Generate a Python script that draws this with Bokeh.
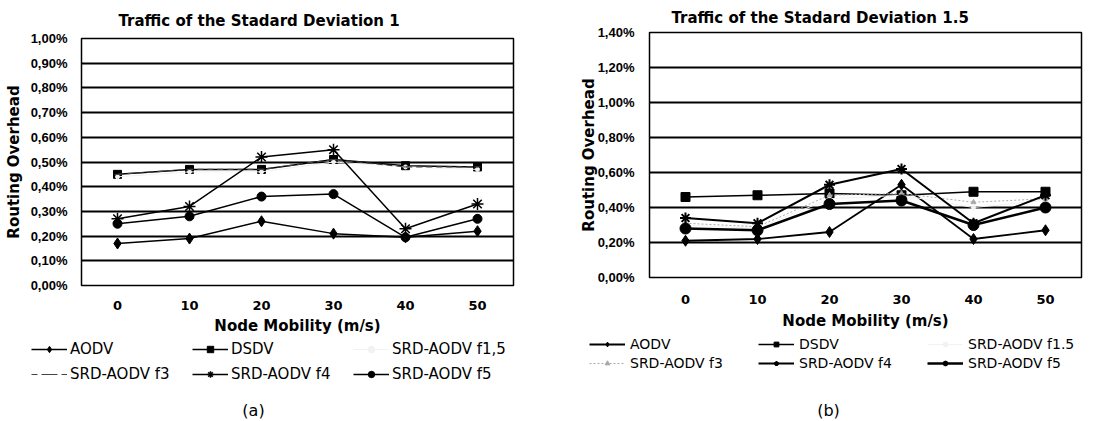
from bokeh.plotting import figure
from bokeh.models import FixedTicker, Legend, LegendItem, Label, Range1d
from bokeh.layouts import row, column
from bokeh.embed import file_html
from bokeh.resources import INLINE

# ---------------- data ----------------
speeds = ["0", "10", "20", "30", "40", "50"]

names_a = ["AODV", "DSDV", "SRD-AODV f1,5", "SRD-AODV f3", "SRD-AODV f4", "SRD-AODV f5"]
names_b = ["AODV", "DSDV", "SRD-AODV f1.5", "SRD-AODV f3", "SRD-AODV f4", "SRD-AODV f5"]

# (a) standard deviation 1, routing overhead in %
a_aodv = [0.17, 0.19, 0.26, 0.21, 0.195, 0.22]
a_dsdv = [0.45, 0.47, 0.47, 0.51, 0.485, 0.48]
a_f15 = [0.44, 0.46, 0.46, 0.50, 0.48, 0.47]
a_f3 = [0.45, 0.47, 0.47, 0.51, 0.48, 0.48]
a_f4 = [0.27, 0.32, 0.52, 0.55, 0.23, 0.33]
a_f5 = [0.25, 0.28, 0.36, 0.37, 0.195, 0.27]

# (b) standard deviation 1.5, routing overhead in %
b_aodv = [0.21, 0.22, 0.26, 0.53, 0.22, 0.27]
b_dsdv = [0.46, 0.47, 0.48, 0.47, 0.49, 0.49]
b_f15 = [0.30, 0.28, 0.45, 0.47, 0.40, 0.44]
b_f3 = [0.31, 0.29, 0.47, 0.48, 0.43, 0.45]
b_f4 = [0.34, 0.31, 0.53, 0.62, 0.31, 0.47]
b_f5 = [0.28, 0.27, 0.42, 0.44, 0.30, 0.40]

yticks_a = [0.0, 0.1, 0.2, 0.3, 0.4, 0.5, 0.6, 0.7, 0.8, 0.9, 1.0]
ylabels_a = ["0,00%", "0,10%", "0,20%", "0,30%", "0,40%", "0,50%",
             "0,60%", "0,70%", "0,80%", "0,90%", "1,00%"]
yticks_b = [0.0, 0.2, 0.4, 0.6, 0.8, 1.0, 1.2, 1.4]
ylabels_b = ["0,00%", "0,20%", "0,40%", "0,60%", "0,80%", "1,00%", "1,20%", "1,40%"]

titles = ["Traffic of the Stadard Deviation 1", "Traffic of the Stadard Deviation 1.5"]
xlabel = "Node Mobility (m/s)"
ylabel = "Routing Overhead"
captions = ["(a)", "(b)"]

# ---------------- styles ----------------
styles_a = [
    dict(marker="diamond", size=11, color="black", lw=1.5, dash="solid", mlw=1),
    dict(marker="square", size=8, color="black", lw=1.5, dash="solid", mlw=1),
    dict(marker="circle", size=4, color="#f2f2f2", lw=1, dash="solid", mlw=1),
    dict(marker="dash", size=6, color="#444444", lw=1.2, dash="6 4", mlw=1),
    dict(marker="asterisk", size=12, color="black", lw=1.5, dash="solid", mlw=1.5),
    dict(marker="circle", size=9, color="black", lw=1.5, dash="solid", mlw=1),
]
styles_b = [
    dict(marker="diamond", size=11, color="black", lw=1.8, dash="solid", mlw=1),
    dict(marker="square", size=9, color="black", lw=1.5, dash="solid", mlw=1),
    dict(marker="circle", size=4, color="#f2f2f2", lw=1, dash="solid", mlw=1),
    dict(marker="triangle", size=5, color="#aaaaaa", lw=1, dash="2 2", mlw=1),
    dict(marker="asterisk", size=11, color="black", lw=2, dash="solid", mlw=2),
    dict(marker="circle", size=11, color="black", lw=2.5, dash="solid", mlw=1),
]

FONT = "DejaVu Sans"


def draw_series(p, vals, st):
    ln = p.line(speeds, vals, line_color=st["color"], line_width=st["lw"], line_dash=st["dash"])
    mk = p.scatter(speeds, vals, marker=st["marker"], size=st["size"],
                   line_color=st["color"], fill_color=st["color"], line_width=st["mlw"])
    return ln, mk


def make_main(width, height, frame, title, title_offset, title_standoff, series, styles,
              yticks, ylabels, ymax, ytick_standoff, ylabel_standoff,
              xtick_standoff, xlabel_standoff):
    left, top, right, bottom = frame
    p = figure(width=width, height=height, x_range=speeds, y_range=Range1d(0, ymax),
               output_backend="svg", toolbar_location=None,
               min_border_left=left, min_border_top=top,
               min_border_right=right, min_border_bottom=bottom)
    p.frame_align = False
    p.title.text = title
    p.title.align = "left"
    p.title.offset = title_offset
    p.title.text_font = FONT
    p.title.text_font_size = "15px"
    p.title.text_font_style = "bold"
    p.title.text_color = "black"
    p.title.standoff = title_standoff

    p.outline_line_color = "black"
    p.outline_line_width = 1.5

    p.xgrid.grid_line_color = None
    p.ygrid.ticker = FixedTicker(ticks=yticks)
    p.ygrid.grid_line_color = "black"
    p.ygrid.grid_line_width = 2

    p.yaxis.ticker = FixedTicker(ticks=yticks)
    p.yaxis.major_label_overrides = {t: l for t, l in zip(yticks, ylabels)}
    p.yaxis.major_label_text_font = "Liberation Sans"
    p.yaxis.major_label_text_font_style = "bold"
    p.yaxis.major_label_text_font_size = "13px"
    p.yaxis.major_label_standoff = ytick_standoff
    p.yaxis.axis_label = ylabel
    p.yaxis.axis_label_text_font = FONT
    p.yaxis.axis_label_text_font_style = "bold"
    p.yaxis.axis_label_text_font_size = "15px"
    p.yaxis.axis_label_standoff = ylabel_standoff

    p.xaxis.major_label_text_font = FONT
    p.xaxis.major_label_text_font_style = "bold"
    p.xaxis.major_label_text_font_size = "13px"
    p.xaxis.major_label_standoff = xtick_standoff
    p.xaxis.axis_label = xlabel
    p.xaxis.axis_label_text_font = FONT
    p.xaxis.axis_label_text_font_style = "bold"
    p.xaxis.axis_label_text_font_size = "15px"
    p.xaxis.axis_label_standoff = xlabel_standoff

    for ax in (p.xaxis, p.yaxis):
        ax.axis_line_color = None
        ax.major_tick_line_color = None
        ax.minor_tick_line_color = None
        ax.major_label_text_color = "black"
        ax.axis_label_text_color = "black"

    for vals, st in zip(series, styles):
        draw_series(p, vals, st)
    return p


def make_legend_fig(width, height, series, names, styles, loc, cfg, caption, cap_xy):
    # same series, but the visible y window lies above all values, so only the legend shows
    q = figure(width=width, height=height, x_range=speeds, y_range=Range1d(5, 6),
               output_backend="svg", toolbar_location=None,
               min_border=0, min_border_left=0, min_border_right=0,
               min_border_top=0, min_border_bottom=0)
    q.frame_align = False
    q.axis.visible = False
    q.grid.visible = False
    q.outline_line_color = None
    items = []
    for vals, name, st in zip(series, names, styles):
        ln, mk = draw_series(q, vals, st)
        items.append(LegendItem(label=name, renderers=[ln, mk]))
    legend = Legend(items=items, location=loc, orientation="horizontal", ncols=3,
                    glyph_width=36, glyph_height=cfg["gh"],
                    label_height=cfg["gh"], label_width=cfg["lw"],
                    label_standoff=cfg["ls"], spacing=cfg["sp"],
                    padding=0, margin=0, border_line_color=None,
                    background_fill_alpha=0,
                    label_text_font=FONT, label_text_font_size=cfg["fs"],
                    label_text_color="black")
    q.add_layout(legend, "center")
    q.add_layout(Label(x=cap_xy[0], y=cap_xy[1], x_units="screen", y_units="screen",
                       text=caption, text_align="center", text_baseline="middle",
                       text_font=FONT, text_font_size="16px", text_color="black"))
    return q


series_a = [a_aodv, a_dsdv, a_f15, a_f3, a_f4, a_f5]
series_b = [b_aodv, b_dsdv, b_f15, b_f3, b_f4, b_f5]

pa = make_main(532, 337, (81, 38, 19, 52), titles[0], 37, 17, series_a, styles_a,
               yticks_a, ylabels_a, 1.0, 8, 5, 9, 4)
la = make_legend_fig(532, 84, series_a, names_a, styles_a, (31, 38),
                     dict(gh=16, lw=115, ls=3, sp=7, fs="15px"), captions[0], (253, 11))

pb = make_main(556, 332, (117, 32, 7, 55), titles[1], 22, 11, series_b, styles_b,
               yticks_b, ylabels_b, 1.4, 9, -3, 11, 5)
lb = make_legend_fig(556, 89, series_b, names_b, styles_b, (57, 50),
                     dict(gh=12, lw=125, ls=5, sp=3, fs="14px"), captions[1], (296, 11))

layout = row(column(pa, la), column(pb, lb))
open("out.html", "w").write(file_html(layout, INLINE))
